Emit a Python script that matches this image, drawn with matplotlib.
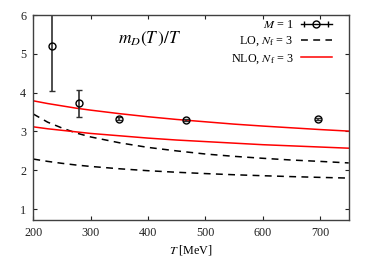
import matplotlib
matplotlib.use("Agg")
import matplotlib.pyplot as plt
from matplotlib.lines import Line2D
from matplotlib.legend_handler import HandlerLine2D, HandlerTuple

# Data
T_pts = [232, 279, 349, 466, 697]
mD_pts = [5.19, 3.73, 3.33, 3.29, 3.32]
err_lo = [1.14, 0.35, 0.04, 0.03, 0.03]
err_hi = [1.20, 0.35, 0.04, 0.03, 0.03]

T_curve = [200, 225, 250, 275, 300, 350, 400, 450, 500, 550, 600, 650, 700, 750]
lo_upper = [3.45, 3.24, 3.09, 2.96, 2.86, 2.71, 2.59, 2.50, 2.42, 2.36, 2.31, 2.265, 2.23, 2.19]
lo_lower = [2.29, 2.23, 2.18, 2.136, 2.10, 2.04, 1.99, 1.95, 1.916, 1.886, 1.861, 1.838, 1.818, 1.80]
nlo_upper = [3.79, 3.72, 3.66, 3.60, 3.55, 3.46, 3.38, 3.31, 3.25, 3.19, 3.14, 3.095, 3.05, 3.01]
nlo_lower = [3.12, 3.07, 3.03, 2.99, 2.95, 2.89, 2.83, 2.78, 2.74, 2.70, 2.66, 2.63, 2.60, 2.57]

xticks = [200, 300, 400, 500, 600, 700]
yticks = [1, 2, 3, 4, 5, 6]

plt.rcParams['font.family'] = ['Liberation Serif', 'DejaVu Serif']
plt.rcParams['mathtext.fontset'] = 'stix'

fig = plt.figure(figsize=(3.71, 2.60), dpi=100)
ax = fig.add_axes([0.0898, 0.1538, 0.8502, 0.7884])

dash = (4.5, 3.5)
ax.plot(T_curve, lo_upper, color='black', lw=1.1, dashes=dash)
ax.plot(T_curve, lo_lower, color='black', lw=1.1, dashes=dash)
ax.plot(T_curve, nlo_upper, color='#ff0000', lw=1.1)
ax.plot(T_curve, nlo_lower, color='#ff0000', lw=1.1)

ax.errorbar(T_pts, mD_pts, yerr=[err_lo, err_hi], fmt='o', mfc='none', mec='black',
            ms=5, mew=1.0, ecolor='#303030', elinewidth=1.2, capsize=2, capthick=1.0,
            clip_on=True)

ax.set_xlim(200, 750)
ax.set_ylim(0.72, 6)
ax.set_xticks(xticks)
ax.set_yticks(yticks)
ax.tick_params(direction='in', length=3, width=0.8, top=True, right=True,
               labelsize=8.7, colors='#222222', pad=5)
for s in ax.spines.values():
    s.set_color('#404040')
    s.set_linewidth(1.0)

ax.set_xlabel(r'$T$ [MeV]', fontsize=8.7, labelpad=3)

ax.text(0.27, 0.885, r'$m_D(T\,)/T$', transform=ax.transAxes, fontsize=12.5,
        ha='left', va='center')

# Legend (gnuplot style: sample on the right)
h_line = Line2D([], [], color='black', lw=1.0)
h_caps = Line2D([], [], color='black', lw=0, marker='|', ms=4, mew=1.0)
h_circ = Line2D([], [], color='black', lw=0, marker='o', mfc='none', ms=5, mew=1.0)
h_lo = Line2D([], [], color='black', lw=1.1, dashes=dash)
h_nlo = Line2D([], [], color='#ff0000', lw=1.1)
leg = ax.legend([(h_line, h_caps, h_circ), h_lo, h_nlo],
                [r'$M$ = 1', r'LO, $N_{\rm f}$ = 3', r'NLO, $N_{\rm f}$ = 3'],
                handler_map={tuple: HandlerTuple(ndivide=1, pad=0),
                             h_caps: HandlerLine2D(numpoints=2)},
                loc='upper right', bbox_to_anchor=(0.97, 1.015), frameon=False,
                markerfirst=False, fontsize=8.7, handlelength=2.6,
                handletextpad=0.6, labelspacing=0.3, numpoints=1,
                borderaxespad=0.2)

fig.savefig('out.png', dpi=100)
